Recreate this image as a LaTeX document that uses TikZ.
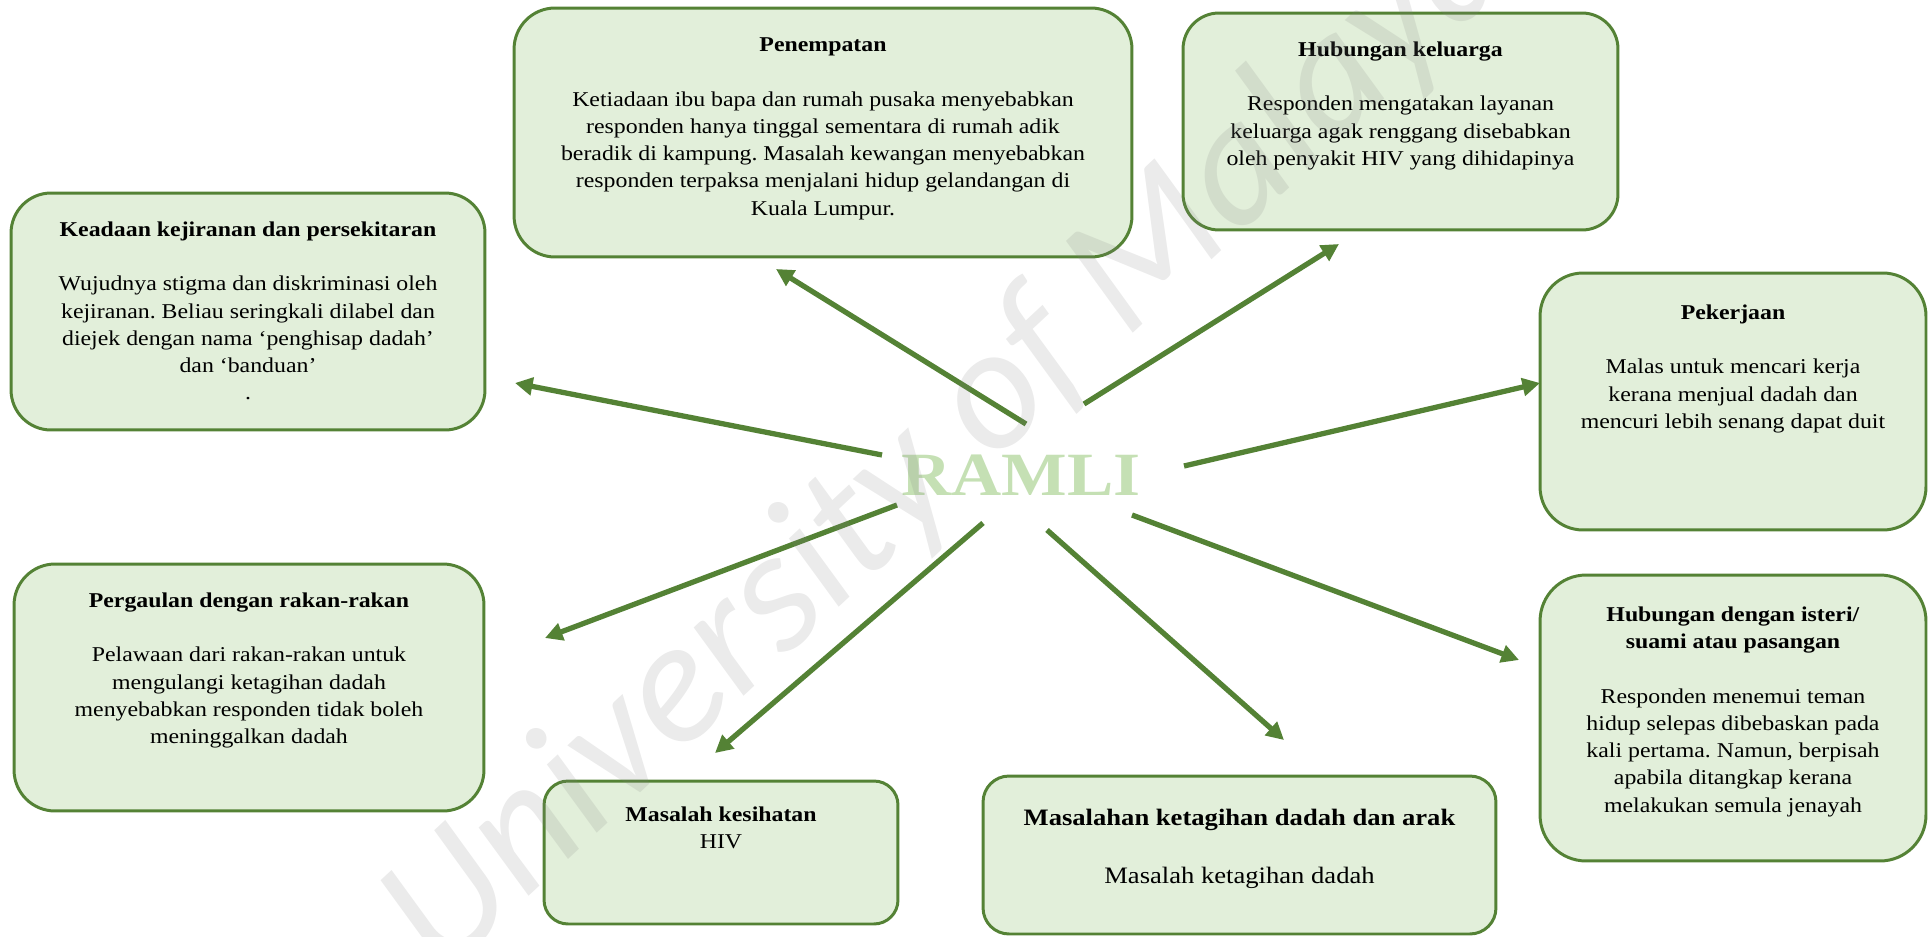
\documentclass[tikz,border=0pt]{standalone}
\usepackage{fontspec}
\setmainfont{Liberation Serif}[FakeStretch=1.13]
\newfontfamily\tandafont{Carlito}
\usetikzlibrary{arrows.meta}

\definecolor{garis}{HTML}{548235}
\definecolor{isi}{HTML}{E2EFDA}
\definecolor{nama}{HTML}{C5E0B4}

\tikzset{
  kotak/.style={draw=garis, fill=isi, line width=1.7pt, inner sep=0pt},
  teks/.style={align=center, inner sep=0pt, anchor=north, font=\fontsize{12}{15.5}\selectfont},
  panah/.style={draw=garis, line width=3pt, -{Triangle[length=10pt,width=10pt]}}
}
\frenchspacing

\begin{document}
\begin{tikzpicture}[x=0.02cm,y=-0.02cm]
	\useasboundingbox (0,0) rectangle (1932,936);

	% kotak-kotak
	\node[kotak, rounded corners=0.8cm, minimum width=9.48cm, minimum height=4.74cm] (kejiranan) at (248,311.5) {};
	\node[kotak, rounded corners=0.82cm, minimum width=12.36cm, minimum height=4.98cm] (penempatan) at (823,132.5) {};
	\node[kotak, rounded corners=0.72cm, minimum width=8.7cm, minimum height=4.34cm] (keluarga) at (1400.5,121.5) {};
	\node[kotak, rounded corners=0.86cm, minimum width=7.72cm, minimum height=5.14cm] (pekerjaan) at (1733,401.5) {};
	\node[kotak, rounded corners=0.92cm, minimum width=7.72cm, minimum height=5.72cm] (pasangan) at (1733,718) {};
	\node[kotak, rounded corners=0.82cm, minimum width=9.4cm, minimum height=4.94cm] (rakan) at (249,687.5) {};
	\node[kotak, rounded corners=0.48cm, minimum width=7.08cm, minimum height=2.86cm] (kesihatan) at (721,852.5) {};
	\node[kotak, rounded corners=0.52cm, minimum width=10.26cm, minimum height=3.16cm] (ketagihan) at (1239.5,855) {};

	% isi kotak
	\node[teks] (kejiranan-t) at ([yshift=-0.6cm]kejiranan.north) {\textbf{Keadaan kejiranan dan persekitaran}\\[15.5pt]
		Wujudnya stigma dan diskriminasi oleh\\ kejiranan. Beliau seringkali dilabel dan\\ diejek dengan nama ‘penghisap dadah’\\ dan ‘banduan’\\ .};
	\node[teks] (penempatan-t) at ([yshift=-0.62cm]penempatan.north) {\textbf{Penempatan}\\[15.5pt]
		Ketiadaan ibu bapa dan rumah pusaka menyebabkan\\ responden hanya tinggal sementara di rumah adik\\ beradik di kampung. Masalah kewangan menyebabkan\\ responden terpaksa menjalani hidup gelandangan di\\ Kuala Lumpur.};
	\node[teks] (keluarga-t) at ([yshift=-0.6cm]keluarga.north) {\textbf{Hubungan keluarga}\\[15.5pt]
		Responden mengatakan layanan\\ keluarga agak renggang disebabkan\\ oleh penyakit HIV yang dihidapinya};
	\node[teks] (pekerjaan-t) at ([yshift=-0.66cm]pekerjaan.north) {\textbf{Pekerjaan}\\[15.5pt]
		Malas untuk mencari kerja\\ kerana menjual dadah dan\\ mencuri lebih senang dapat duit};
	\node[teks] (pasangan-t) at ([yshift=-0.66cm]pasangan.north) {\textbf{Hubungan dengan isteri/}\\ \textbf{suami atau pasangan}\\[15.5pt]
		Responden menemui teman\\ hidup selepas dibebaskan pada\\ kali pertama. Namun, berpisah\\ apabila ditangkap kerana\\ melakukan semula jenayah};
	\node[teks] (rakan-t) at ([yshift=-0.6cm]rakan.north) {\textbf{Pergaulan dengan rakan-rakan}\\[15.5pt]
		Pelawaan dari rakan-rakan untuk\\ mengulangi ketagihan dadah\\ menyebabkan responden tidak boleh\\ meninggalkan dadah};
	\node[teks] (kesihatan-t) at ([yshift=-0.54cm]kesihatan.north) {\textbf{Masalah kesihatan}\\ HIV};
	\node[teks, font=\fontsize{13.4}{16.5}\selectfont] (ketagihan-t) at ([yshift=-0.68cm]ketagihan.north) {\textbf{Masalahan ketagihan dadah dan arak}\\[16.5pt]
		Masalah ketagihan dadah};

	% nama responden
	\node[font=\fontsize{35}{35}\bfseries\selectfont, text=nama, inner sep=0pt] (ramli) at (1021,475) {RAMLI};

	% anak panah
	\coordinate (e1) at (882,455);  \coordinate (h1) at (515,383);
	\coordinate (e2) at (1026,424); \coordinate (h2) at (776,269);
	\coordinate (e3) at (1084,404); \coordinate (h3) at (1339,244);
	\coordinate (e4) at (1184,466); \coordinate (h4) at (1540,383);
	\coordinate (e5) at (1132,515); \coordinate (h5) at (1519,660);
	\coordinate (e6) at (1047,530); \coordinate (h6) at (1284,740);
	\coordinate (e7) at (983,523);  \coordinate (h7) at (715,753);
	\coordinate (e8) at (897,505);  \coordinate (h8) at (545,638);
	\draw[panah] (e1) -- (h1);
	\draw[panah] (e2) -- (h2);
	\draw[panah] (e3) -- (h3);
	\draw[panah] (e4) -- (h4);
	\draw[panah] (e5) -- (h5);
	\draw[panah] (e6) -- (h6);
	\draw[panah] (e7) -- (h7);
	\draw[panah] (e8) -- (h8);

	% tanda air
	\node[rotate=43, text=gray, text opacity=0.16, font=\tandafont\itshape\fontsize{100}{100}\selectfont] (tandaair) at (950,440) {University of Malaya};
\end{tikzpicture}
\end{document}
